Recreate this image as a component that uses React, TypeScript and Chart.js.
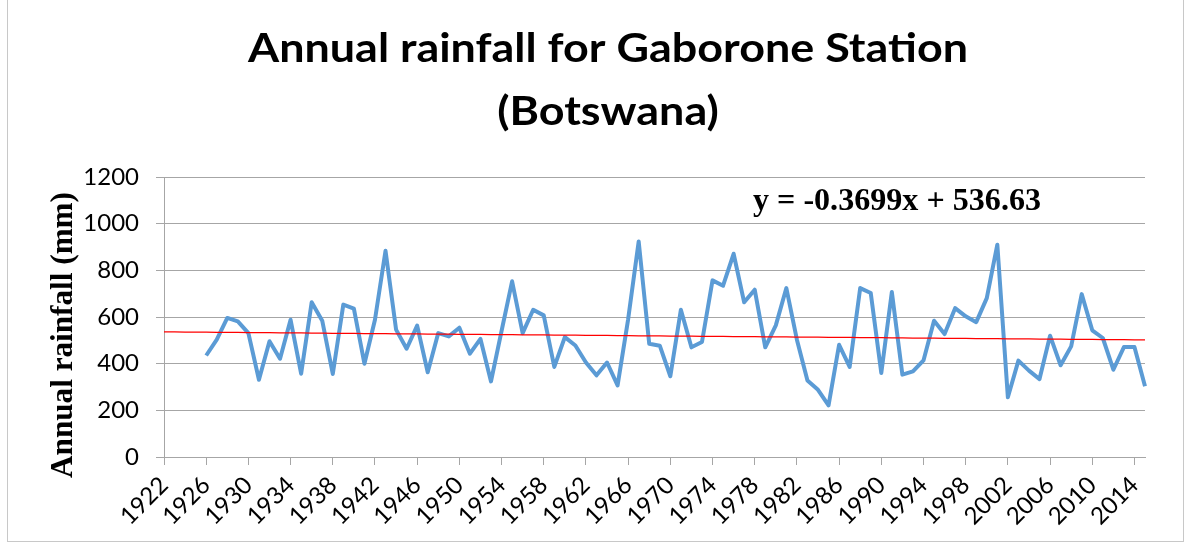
import React, { useEffect, useRef } from 'react';
import { Chart, registerables } from 'chart.js';

Chart.register(...registerables);

const years: string[] = [
  '1922', '1923', '1924', '1925', '1926', '1927', '1928', '1929', '1930', '1931',
  '1932', '1933', '1934', '1935', '1936', '1937', '1938', '1939', '1940', '1941',
  '1942', '1943', '1944', '1945', '1946', '1947', '1948', '1949', '1950', '1951',
  '1952', '1953', '1954', '1955', '1956', '1957', '1958', '1959', '1960', '1961',
  '1962', '1963', '1964', '1965', '1966', '1967', '1968', '1969', '1970', '1971',
  '1972', '1973', '1974', '1975', '1976', '1977', '1978', '1979', '1980', '1981',
  '1982', '1983', '1984', '1985', '1986', '1987', '1988', '1989', '1990', '1991',
  '1992', '1993', '1994', '1995', '1996', '1997', '1998', '1999', '2000', '2001',
  '2002', '2003', '2004', '2005', '2006', '2007', '2008', '2009', '2010', '2011',
  '2012', '2013', '2014', '2015',
];

// Annual rainfall (mm); no record for 1922-1925
const rainfall: (number | null)[] = [
  null, null, null, null,
  435, 503, 596, 581, 531, 331, 496, 421, 588, 357, // 1926-1935
  663, 584, 356, 653, 636, 400, 588, 884, 546, 464, // 1936-1945
  563, 363, 531, 517, 554, 443, 506, 324, 540, 753, // 1946-1955
  531, 631, 607, 386, 514, 478, 405, 350, 405, 307, // 1956-1965
  590, 924, 485, 477, 346, 631, 470, 493, 757, 734, // 1966-1975
  871, 663, 717, 470, 564, 724, 503, 328, 288, 221, // 1976-1985
  481, 386, 724, 703, 360, 707, 353, 367, 414, 584, // 1986-1995
  527, 638, 603, 578, 681, 910, 256, 413, 370, 334, // 1996-2005
  520, 393, 474, 698, 543, 510, 374, 471, 471, 303, // 2006-2015
];

const yTickValues: number[] = [0, 200, 400, 600, 800, 1000, 1200];

// Linear trendline shown on the chart: y = -0.3699x + 536.63 (x = category index from 1)
const trendSlope = -0.3699;
const trendIntercept = 536.63;

const titleLines: string[] = ['Annual rainfall for Gaborone Station', '(Botswana)'];
const yAxisTitle = 'Annual rainfall (mm)';
const equationText = 'y = -0.3699x + 536.63';

const W = 1189;
const H = 547;

const textPlugin = {
  id: 'chartTexts',
  beforeDraw(chart: any) {
    const ctx = chart.ctx as CanvasRenderingContext2D;
    ctx.save();
    ctx.fillStyle = '#ffffff';
    ctx.fillRect(0, 0, W, H);
    ctx.strokeStyle = '#c8c8c8';
    ctx.lineWidth = 1;
    ctx.strokeRect(7.5, -2, 1176, 543.5);
    ctx.restore();
  },
  afterDraw(chart: any) {
    const ctx = chart.ctx as CanvasRenderingContext2D;
    ctx.save();
    ctx.fillStyle = '#000000';
    ctx.textBaseline = 'alphabetic';

    // Title
    ctx.font = 'bold 40px Lato';
    ctx.textAlign = 'center';
    const w0 = ctx.measureText(titleLines[0]).width;
    const sx = 720 / w0;
    ctx.save();
    ctx.translate(608, 62);
    ctx.scale(sx, 1);
    ctx.fillText(titleLines[0], 0, 0);
    ctx.restore();
    ctx.save();
    ctx.translate(608, 125);
    ctx.scale(sx, 1);
    ctx.fillText(titleLines[1], 0, 0);
    ctx.restore();

    // Y-axis title
    ctx.save();
    ctx.font = 'bold 32px "Liberation Serif"';
    const wy = ctx.measureText(yAxisTitle).width;
    ctx.translate(72, 335);
    ctx.rotate(-Math.PI / 2);
    ctx.scale(286 / wy, 1);
    ctx.textAlign = 'center';
    ctx.fillText(yAxisTitle, 0, 0);
    ctx.restore();

    // Trend equation
    ctx.save();
    ctx.font = 'bold 31px "Liberation Serif"';
    const we = ctx.measureText(equationText).width;
    ctx.translate(753, 210);
    ctx.scale(288 / we, 1);
    ctx.textAlign = 'left';
    ctx.fillText(equationText, 0, 0);
    ctx.restore();

    ctx.restore();
  },
};

export default function App() {
  const canvasRef = useRef<HTMLCanvasElement | null>(null);

  useEffect(() => {
    if (!canvasRef.current) return;
    const trend = years.map((_, i) => trendIntercept + trendSlope * (i + 1));
    const gridColor = '#a6a6a6';
    const tickFont = { family: 'Lato', size: 24 };
    const chart = new Chart(canvasRef.current, {
      type: 'line',
      data: {
        labels: years,
        datasets: [
          {
            label: 'Annual rainfall',
            data: rainfall,
            borderColor: '#5B9BD5',
            backgroundColor: '#5B9BD5',
            borderWidth: 4,
            pointRadius: 0,
            tension: 0,
            fill: false,
            order: 1,
            borderJoinStyle: 'round',
          },
          {
            label: 'Linear trend',
            data: trend,
            borderColor: '#FF0000',
            backgroundColor: '#FF0000',
            borderWidth: 1.25,
            pointRadius: 0,
            tension: 0,
            fill: false,
            order: 0,
          },
        ],
      },
      options: {
        responsive: false,
        animation: false,
        devicePixelRatio: 1,
        layout: { padding: { top: 177, right: 44, bottom: 0, left: 0 } },
        plugins: {
          legend: { display: false },
          tooltip: { enabled: false },
          title: { display: false },
        },
        scales: {
          x: {
            type: 'category',
            offset: false,
            grid: { drawOnChartArea: false, drawTicks: true, tickLength: 8, color: gridColor },
            border: { color: gridColor, width: 1 },
            ticks: {
              autoSkip: false,
              minRotation: 45,
              maxRotation: 45,
              padding: 6,
              color: '#000000',
              font: tickFont,
              callback: (_v: any, i: number) => (i % 4 === 0 ? years[i] : null),
            },
            afterFit: (s: any) => {
              s.height = 90;
            },
          },
          y: {
            min: 0,
            max: 1200,
            afterBuildTicks: (s: any) => {
              s.ticks = yTickValues.map((v) => ({ value: v }));
            },
            ticks: {
              padding: 17,
              color: '#000000',
              font: tickFont,
              callback: (v: any) => String(v),
            },
            grid: { color: gridColor, tickLength: 8 },
            border: { color: gridColor, width: 1 },
            afterFit: (s: any) => {
              s.width = 164;
            },
          },
        },
      },
      plugins: [textPlugin],
    } as any);
    return () => chart.destroy();
  }, []);

  return (
    <div style={{ position: 'fixed', left: 0, top: 0, width: W, height: H, background: '#fff' }}>
      <canvas ref={canvasRef} width={W} height={H} style={{ width: W, height: H, display: 'block' }} />
    </div>
  );
}
